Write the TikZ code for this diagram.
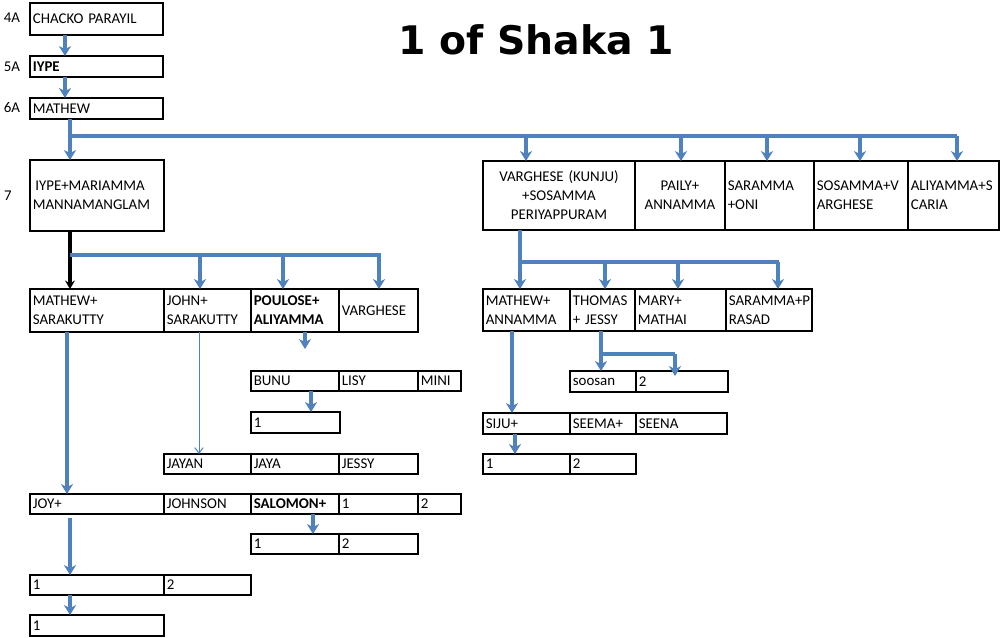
\documentclass[tikz,border=0pt]{standalone}
\usepackage{fontspec}
\setmainfont{Carlito}
\newfontfamily\titlefont{DejaVu Sans}
\usetikzlibrary{arrows.meta,calc}
\definecolor{lineblue}{RGB}{79,129,189}
\newcommand\cellfont{\fontsize{10.6}{13.5}\selectfont}

\begin{document}
\begin{tikzpicture}[x=0.025cm,y=-0.025cm,font=\cellfont]
\tikzset{cell/.style={draw, anchor=north west, line width=1.1pt, inner xsep=2pt, inner ysep=0pt, outer sep=0pt, align=left}}
\tikzset{thickcell/.style={cell, line width=2pt}}
\tikzset{wd/.style={minimum width=#1*0.025cm, text width=#1*0.025cm-4pt}}
\tikzset{ht/.style={minimum height=#1*0.025cm}}
\tikzset{bold/.style={font=\cellfont\bfseries}}
\tikzset{bus/.style={draw=lineblue, line width=2.2pt}}
\tikzset{arr/.style={bus, -{Stealth[length=7pt,width=8.5pt,inset=2pt]}}}
\tikzset{thinarr/.style={draw=lineblue, line width=0.7pt, -{Straight Barb[length=4pt,width=6pt]}}}
\tikzset{blackarr/.style={draw=black, line width=2.2pt, -{Stealth[length=6pt,width=7pt,inset=2pt]}}}

\useasboundingbox (0,0) rectangle (1000,638);

% generations
\node (g4) at (12,18) {4A};
\node (g5) at (12,67) {5A};
\node (g6) at (12,108) {6A};
\node (g7) at (8,196) {7};
\node[font=\titlefont\bfseries\fontsize{28}{30}\selectfont] (title) at (536,40) {1 of Shaka 1};

% 4A - 6A
\node[thickcell,wd=133,ht=32] (chacko) at (30,3) {CHACKO PARAYIL};
\node[thickcell,wd=133,ht=21,bold] (iype) at (30,56) {IYPE};
\node[thickcell,wd=133,ht=21] (mathew) at (30,98) {MATHEW};

% 7
\node[thickcell,wd=134,ht=71] (iypem) at (30,160) {\,IYPE+MARIAMMA\\MANNAMANGLAM};
\node[thickcell,wd=152,ht=69,align=center] (vk) at (483,161) {VARGHESE (KUNJU)\\+SOSAMMA\\PERIYAPPURAM};
\node[thickcell,wd=90,ht=69,align=center] (paily) at (635,161) {PAILY+\\ANNAMMA};
\node[thickcell,wd=89,ht=69] (saramma) at (725,161) {SARAMMA\\+ONI};
\node[thickcell,wd=94,ht=69] (sosamma) at (814,161) {SOSAMMA+V\\ARGHESE};
\node[thickcell,wd=91,ht=69] (aliyamma) at (908,161) {ALIYAMMA+S\\CARIA};

% 8
\node[thickcell,wd=134,ht=43] (m8) at (30,289) {MATHEW+\\SARAKUTTY};
\node[thickcell,wd=87,ht=43] (john8) at (164,289) {JOHN+\\SARAKUTTY};
\node[thickcell,wd=88,ht=43,bold] (poulose) at (251,289) {POULOSE+\\ALIYAMMA};
\node[thickcell,wd=79,ht=43] (varg8) at (339,289) {VARGHESE};
\node[thickcell,wd=87,ht=42] (ma) at (483,289) {MATHEW+\\ANNAMMA};
\node[thickcell,wd=65,ht=42] (thomas) at (570,289) {THOMAS\\+ JESSY};
\node[thickcell,wd=91,ht=42] (mary) at (635,289) {MARY+\\MATHAI};
\node[thickcell,wd=86,ht=42] (sarp) at (726,289) {SARAMMA+P\\RASAD};

% 9 and below
\node[thickcell,wd=88,ht=20] (bunu) at (251,371) {BUNU};
\node[thickcell,wd=79,ht=20] (lisy) at (339,371) {LISY};
\node[thickcell,wd=43,ht=20] (mini) at (418,371) {MINI};
\node[thickcell,wd=89,ht=21] (bunu1) at (251,412) {1};
\node[cell,wd=87,ht=20] (jayan) at (164,454) {JAYAN};
\node[cell,wd=88,ht=20] (jaya) at (251,454) {JAYA};
\node[cell,wd=79,ht=20] (jessy) at (339,454) {JESSY};
\node[cell,wd=134,ht=20] (joy) at (30,494) {JOY+};
\node[cell,wd=87,ht=20] (johnson) at (164,494) {JOHNSON};
\node[cell,wd=88,ht=20,bold] (salomon) at (251,494) {SALOMON+};
\node[cell,wd=79,ht=20] (vn1) at (339,494) {1};
\node[cell,wd=43,ht=20] (vn2) at (418,494) {2};
\node[cell,wd=88,ht=20] (sal1) at (251,534) {1};
\node[cell,wd=79,ht=20] (sal2) at (339,534) {2};
\node[cell,wd=134,ht=20] (joy1) at (30,575) {1};
\node[cell,wd=87,ht=20] (joy2) at (164,575) {2};
\node[thickcell,wd=134,ht=21] (joyc) at (30,615) {1};
\node[thickcell,wd=66,ht=21] (soosan) at (570,371) {soosan};
\node[thickcell,wd=92,ht=21] (tj2) at (636,371) {2};
\node[cell,wd=87,ht=21] (siju) at (483,413) {SIJU+};
\node[cell,wd=66,ht=21] (seema) at (570,413) {SEEMA+};
\node[cell,wd=91,ht=21] (seena) at (636,413) {SEENA};
\node[cell,wd=87,ht=20] (siju1) at (483,454) {1};
\node[cell,wd=66,ht=20] (siju2) at (570,454) {2};

% connectors
\draw[arr] ($(chacko.south west)+(35,0)$) -- ($(iype.north west)+(35,0)$);
\draw[arr] ($(iype.south west)+(35,0)$) -- ($(mathew.north west)+(35,0)$);

\coordinate (b7) at (70,136);
\coordinate (b7end) at (957,136);
\draw[bus] (b7 |- mathew.south) -- (b7) -- (b7end);
\foreach \xx/\kid in {70/iypem,526/vk,681/paily,767/saramma,860/sosamma,957/aliyamma}
  \draw[arr] (\xx,136) coordinate (t) -- (t |- \kid.north);

\coordinate (b8l) at (70,255);
\coordinate (b8lend) at (381,255);
\draw[blackarr] (b8l |- iypem.south) -- (b8l |- m8.north);
\draw[bus] (b8l) -- (b8lend);
\foreach \xx/\kid in {200/john8,283/poulose,379/varg8}
  \draw[arr] (\xx,255) coordinate (t) -- (t |- \kid.north);

\coordinate (b8r) at (520,262);
\coordinate (b8rend) at (779,262);
\draw[bus] (b8r |- vk.south) -- (b8r) -- (b8rend);
\foreach \xx/\kid in {520/ma,605/thomas,678/mary,778/sarp}
  \draw[arr] (\xx,262) coordinate (t) -- (t |- \kid.north);

\draw[arr] ($(m8.south west)+(37,0)$) -- ($(joy.north west)+(37,0)$);
\draw[thinarr] ($(john8.south west)+(35,0)$) -- ($(jayan.north west)+(35,0)$);
\draw[arr] ($(poulose.south west)+(54,0)$) -- ++(0,17) coordinate (pend);
\draw[arr] ($(bunu.south west)+(60,0)$) -- ($(bunu1.north west)+(60,0)$);
\draw[arr] ($(salomon.south west)+(62,0)$) -- ($(sal1.north west)+(62,0)$);
\draw[arr] ($(joy.south west)+(40,4)$) -- ($(joy1.north west)+(40,0)$);
\draw[arr] ($(joy1.south west)+(40,0)$) -- ($(joyc.north west)+(40,0)$);
\draw[arr] ($(ma.south west)+(29,0)$) -- ($(siju.north west)+(29,0)$);
\draw[arr] ($(siju.south west)+(32,0)$) -- ($(siju1.north west)+(32,0)$);

\coordinate (b9) at (601,354);
\coordinate (b9end) at (675,354);
\draw[bus] (b9 |- thomas.south) -- (b9) -- (b9end);
\draw[arr] (b9) -- (b9 |- soosan.north);
\draw[arr] (b9end) -- ($(b9end |- tj2.north)+(0,5)$);
\end{tikzpicture}
\end{document}
